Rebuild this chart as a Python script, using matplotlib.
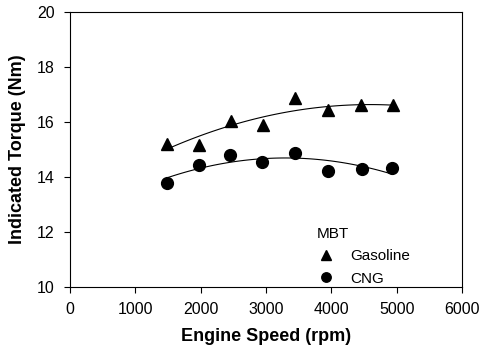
import numpy as np
import matplotlib
matplotlib.use('Agg')
import matplotlib.pyplot as plt

plt.rcParams['font.family'] = ['Liberation Sans', 'DejaVu Sans']

# engine speed (rpm)
speed_gas = [1480, 1980, 2470, 2950, 3450, 3950, 4460, 4950]
torque_gas = [15.2, 15.15, 16.04, 15.89, 16.86, 16.44, 16.6, 16.6]
speed_cng = [1480, 1980, 2450, 2940, 3445, 3945, 4465, 4925]
torque_cng = [13.77, 14.44, 14.8, 14.56, 14.86, 14.23, 14.29, 14.31]

fig, ax = plt.subplots(figsize=(4.9, 3.53), dpi=100)
fig.subplots_adjust(left=0.143, right=0.943, top=0.966, bottom=0.187)

ax.plot(speed_gas, torque_gas, '^', color='black', markersize=9, label='Gasoline')
ax.plot(speed_cng, torque_cng, 'o', color='black', markersize=8.5, label='CNG')

# quadratic regression lines
for xs, ys in [(speed_gas, torque_gas), (speed_cng, torque_cng)]:
    c = np.polyfit(xs, ys, 2)
    xx = np.linspace(min(xs), max(xs), 100)
    ax.plot(xx, np.polyval(c, xx), '-', color='black', lw=0.8)

ax.set_xlim(0, 6000)
ax.set_ylim(10, 20)
ax.set_xticks(range(0, 7000, 1000))
ax.set_yticks(range(10, 22, 2))
ax.tick_params(direction='out', labelsize=11.5, length=4, width=0.8, pad=7)
for s in ax.spines.values():
    s.set_linewidth(0.8)
ax.set_xlabel('Engine Speed (rpm)', fontsize=13, fontweight='bold', labelpad=8)
ax.set_ylabel('Indicated Torque (Nm)', fontsize=13, fontweight='bold', labelpad=8)

leg = ax.legend(title='MBT', frameon=False, loc='lower left', bbox_to_anchor=(0.595, -0.045),
                fontsize=11, title_fontsize=11, markerscale=0.8, handlelength=1.2,
                handletextpad=1.0, labelspacing=0.55, alignment='left')

fig.savefig('out.png', dpi=100)
